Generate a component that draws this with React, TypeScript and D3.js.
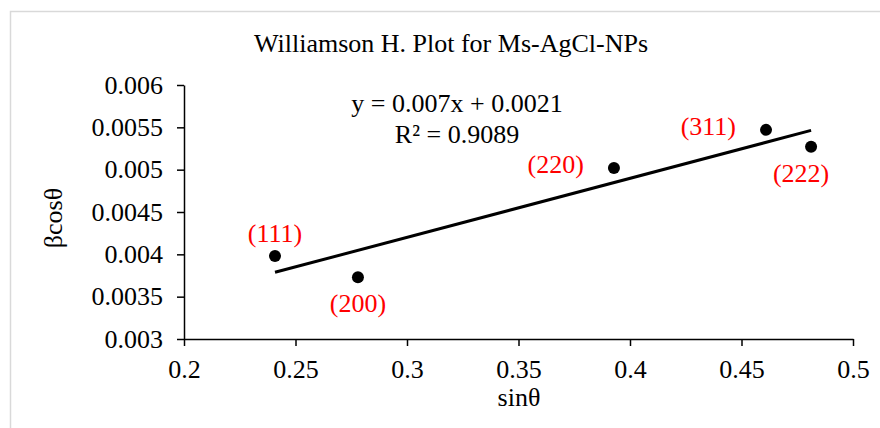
import React, { useEffect, useRef } from 'react';
import * as d3 from 'd3';

// sinθ / βcosθ
const planes = ['(111)', '(200)', '(220)', '(311)', '(222)'];
const sinTheta = [0.2408, 0.278, 0.3928, 0.461, 0.4812];
const betaCos = [0.00398, 0.00373, 0.00502, 0.00547, 0.00527];
const labelPos = ['above', 'below', 'left', 'left', 'below'];
const xTicks = [0.2, 0.25, 0.3, 0.35, 0.4, 0.45, 0.5];
const yTicks = [0.003, 0.0035, 0.004, 0.0045, 0.005, 0.0055, 0.006];
const equation = ['y = 0.007x + 0.0021', 'R² = 0.9089'];

const W = 880, H = 428;
const FONT = '"Liberation Serif", "Times New Roman", serif';

export default function App() {
  const svgRef = useRef<SVGSVGElement>(null);

  useEffect(() => {
    const svg = d3.select(svgRef.current);
    svg.selectAll('*').remove();

    const x = d3.scaleLinear().domain([0.2, 0.5]).range([184, 853]);
    const y = d3.scaleLinear().domain([0.003, 0.006]).range([339, 85]);

    svg.append('rect').attr('width', W).attr('height', H).attr('fill', '#fff');
    svg.append('rect').attr('x', 10.5).attr('y', 11.5).attr('width', W + 20).attr('height', H + 20)
      .attr('fill', 'none').attr('stroke', '#d9d9d9').attr('stroke-width', 1.5);

    const xAxis = svg.append('g').attr('transform', `translate(0,${y(0.003)})`)
      .call(d3.axisBottom(x).tickValues(xTicks).tickFormat(d => String(d)).tickSize(7).tickSizeOuter(0).tickPadding(14));
    const yAxis = svg.append('g').attr('transform', `translate(${x(0.2)},0)`)
      .call(d3.axisLeft(y).tickValues(yTicks).tickFormat(d => String(d)).tickSize(7).tickSizeOuter(0).tickPadding(14));
    [xAxis, yAxis].forEach(g => {
      g.selectAll('path,line').attr('stroke', '#000').attr('stroke-width', 1.5);
      g.selectAll('text').attr('font-family', FONT).attr('font-size', 26).attr('fill', '#000');
    });

    // least squares trendline
    const mx = d3.mean(sinTheta)!, my = d3.mean(betaCos)!;
    const slope = d3.sum(sinTheta, (v, i) => (v - mx) * (betaCos[i] - my)) / d3.sum(sinTheta, v => (v - mx) ** 2);
    const icpt = my - slope * mx;
    const [x0, x1] = d3.extent(sinTheta) as [number, number];
    svg.append('path')
      .attr('d', d3.line()([[x(x0), y(slope * x0 + icpt)], [x(x1), y(slope * x1 + icpt)]]))
      .attr('stroke', '#000').attr('stroke-width', 3).attr('fill', 'none');

    svg.append('g').selectAll('circle').data(sinTheta).join('circle')
      .attr('cx', d => x(d)).attr('cy', (_, i) => y(betaCos[i])).attr('r', 6).attr('fill', '#000');

    svg.append('g').selectAll('text').data(planes).join('text')
      .attr('x', (_, i) => x(sinTheta[i]) + (labelPos[i] === 'left' ? -30 : i === 4 ? -10 : 0))
      .attr('y', (_, i) => y(betaCos[i]) + (labelPos[i] === 'above' ? -14 : labelPos[i] === 'below' ? 35 : 5))
      .attr('text-anchor', (_, i) => labelPos[i] === 'left' ? 'end' : 'middle')
      .attr('font-family', FONT).attr('font-size', 26).attr('fill', '#ff0000')
      .text(d => d);

    const txt = (s: string, tx: number, ty: number, rot = 0) =>
      svg.append('text').attr('transform', `translate(${tx},${ty}) rotate(${rot})`)
        .attr('text-anchor', 'middle').attr('font-family', FONT).attr('font-size', 26).attr('fill', '#000').text(s);

    txt('Williamson H. Plot for Ms-AgCl-NPs', 451, 52);
    txt(equation[0], 457, 112);
    txt(equation[1], 457, 143);
    txt('sinθ', 519, 406);
    txt('βcosθ', 62, 218, -90);
  }, []);

  return (
    <svg ref={svgRef} width={W} height={H} viewBox={`0 0 ${W} ${H}`}
      style={{ position: 'absolute', left: 0, top: 0 }} />
  );
}
